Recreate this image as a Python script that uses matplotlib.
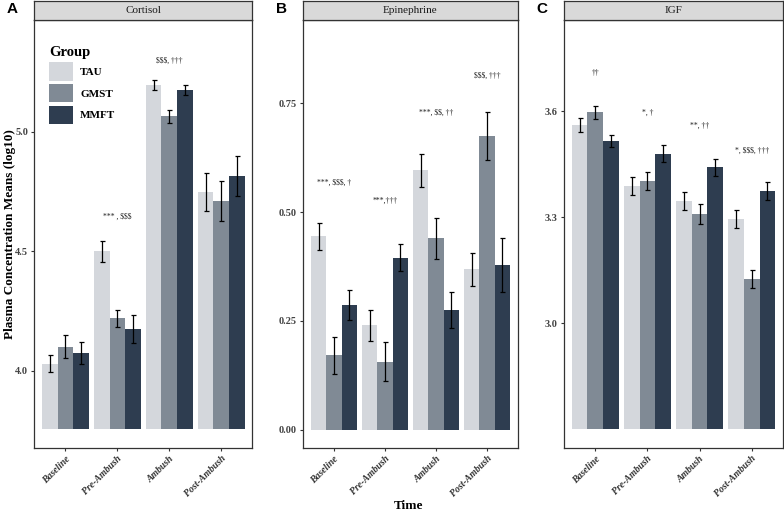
import matplotlib
matplotlib.use("Agg")
import matplotlib.pyplot as plt
from matplotlib.patches import Patch
import numpy as np

plt.rcParams["text.parse_math"] = False

# ---------------- data ----------------
times = ["Baseline", "Pre-Ambush", "Ambush", "Post-Ambush"]
groups = ["TAU", "GMST", "MMFT"]

cortisol_tau = [4.03, 4.50, 5.195, 4.75]
cortisol_gmst = [4.10, 4.22, 5.065, 4.71]
cortisol_mmft = [4.075, 4.175, 5.175, 4.815]
cortisol_tau_se = [0.037, 0.045, 0.021, 0.080]
cortisol_gmst_se = [0.048, 0.036, 0.028, 0.083]
cortisol_mmft_se = [0.045, 0.057, 0.020, 0.083]
cortisol_notes = ["", "*** , $$$", "$$$, \u2020\u2020\u2020", ""]
cortisol_note_y = [np.nan, 4.644, 5.30, np.nan]

epi_tau = [0.444, 0.240, 0.596, 0.369]
epi_gmst = [0.171, 0.157, 0.440, 0.674]
epi_mmft = [0.286, 0.395, 0.275, 0.379]
epi_tau_se = [0.031, 0.036, 0.038, 0.038]
epi_gmst_se = [0.043, 0.045, 0.047, 0.055]
epi_mmft_se = [0.034, 0.031, 0.041, 0.062]
epi_notes = ["***, $$$, \u2020", "***,\u2020\u2020\u2020", "***, $$, \u2020\u2020", "$$$, \u2020\u2020\u2020"]
epi_note_y = [0.566, 0.525, 0.727, 0.812]

igf_tau = [3.562, 3.389, 3.346, 3.295]
igf_gmst = [3.597, 3.403, 3.310, 3.126]
igf_mmft = [3.517, 3.480, 3.442, 3.374]
igf_tau_se = [0.019, 0.026, 0.025, 0.026]
igf_gmst_se = [0.018, 0.026, 0.028, 0.025]
igf_mmft_se = [0.017, 0.024, 0.024, 0.026]
igf_notes = ["\u2020\u2020", "*, \u2020", "**, \u2020\u2020", "*, $$$, \u2020\u2020\u2020"]
igf_note_y = [3.71, 3.596, 3.56, 3.489]

cortisol_ticks = [4.0, 4.5, 5.0]
epi_ticks = [0.00, 0.25, 0.50, 0.75]
igf_ticks = [3.0, 3.3, 3.6]

# ---------------- style ----------------
colors = ["#D4D7DC", "#808A95", "#2E3D50"]
serif = ["Liberation Serif", "DejaVu Serif"]
plt.rcParams["font.family"] = serif
dark = "#333333"

W, H = 784, 516
fig = plt.figure(figsize=(W / 100, H / 100), dpi=100)

def px_axes(x0, x1, y0, y1):
    return fig.add_axes([x0 / W, 1 - y1 / H, (x1 - x0) / W, (y1 - y0) / H])

panels = [
    dict(title="Cortisol", letter="A", x0=34.3, x1=252.3, lx=7,
         means=[cortisol_tau, cortisol_gmst, cortisol_mmft],
         ses=[cortisol_tau_se, cortisol_gmst_se, cortisol_mmft_se],
         notes=cortisol_notes, note_y=cortisol_note_y,
         ticks=cortisol_ticks, fmt="{:.1f}", base=3.755, ylim=(3.676, 5.468)),
    dict(title="Epinephrine", letter="B", x0=303.3, x1=517.5, lx=276,
         means=[epi_tau, epi_gmst, epi_mmft],
         ses=[epi_tau_se, epi_gmst_se, epi_mmft_se],
         notes=epi_notes, note_y=epi_note_y,
         ticks=epi_ticks, fmt="{:.2f}", base=0.0, ylim=(-0.0413, 0.9397)),
    dict(title="IGF", letter="C", x0=564, x1=783, lx=536,
         means=[igf_tau, igf_gmst, igf_mmft],
         ses=[igf_tau_se, igf_gmst_se, igf_mmft_se],
         notes=igf_notes, note_y=igf_note_y,
         ticks=igf_ticks, fmt="{:.1f}", base=2.70, ylim=(2.647, 3.858)),
]

y_top, y_bot = 20.3, 448.0
x = np.arange(1, len(times) + 1)
bw = 0.3

axes = []
for p in panels:
    ax = px_axes(p["x0"], p["x1"], y_top, y_bot)
    axes.append(ax)
    for gi, (m, s) in enumerate(zip(p["means"], p["ses"])):
        m = np.asarray(m)
        pos = x + (gi - 1) * bw
        ax.bar(pos, m - p["base"], bottom=p["base"], width=bw,
               color=colors[gi], edgecolor="none", zorder=2)
        ax.errorbar(pos, m, yerr=s, fmt="none", ecolor="black",
                    elinewidth=0.9, capsize=1.8, capthick=0.9, zorder=3)
    for xi, (t, ty) in enumerate(zip(p["notes"], p["note_y"])):
        if t:
            ax.text(x[xi], ty, t, ha="center", va="center", fontsize=5.5,
                    color="#222222", family=serif)
    ax.set_xlim(0.4, 4.6)
    ax.set_ylim(*p["ylim"])
    ax.set_xticks(x)
    ax.set_xticklabels(times, rotation=45, ha="right", va="top",
                       rotation_mode="anchor", fontsize=7,
                       fontweight="bold", fontstyle="italic", color=dark)
    ax.set_yticks(p["ticks"])
    ax.set_yticklabels([p["fmt"].format(v) for v in p["ticks"]],
                       fontsize=7.5, fontweight="bold", color="#444444")
    ax.tick_params(axis="both", length=2.5, width=0.8, color=dark, pad=2)
    for sp in ax.spines.values():
        sp.set_color(dark)
        sp.set_linewidth(0.9)
    ax.set_facecolor("white")

    # facet strip
    sax = px_axes(p["x0"], p["x1"], 1.0, y_top)
    sax.set_facecolor("#D9D9D9")
    sax.set_xticks([])
    sax.set_yticks([])
    for sp in sax.spines.values():
        sp.set_color(dark)
        sp.set_linewidth(0.9)
    sax.text(0.5, 0.5, p["title"], ha="center", va="center",
             fontsize=8, color="#1A1A1A", transform=sax.transAxes)

    # panel letter
    fig.text(p["lx"] / W, 1 - 9 / H, p["letter"], ha="left", va="center",
             fontsize=11, fontweight="bold",
             family=["Liberation Sans", "DejaVu Sans"])

# legend in panel A
handles = [Patch(facecolor=c, edgecolor="none") for c in colors]
leg = axes[0].legend(handles, groups, title="Group", loc="upper left",
                     bbox_to_anchor=(0.067, 0.94), frameon=False,
                     borderpad=0, borderaxespad=0,
                     handlelength=2.2, handleheight=2.2,
                     handletextpad=0.6, labelspacing=0.28,
                     prop=dict(family=serif, weight="bold", size=8),
                     title_fontproperties=dict(family=serif, weight="bold", size=10.5),
                     alignment="left")

fig.text(10 / W, 1 - 234 / H, "Plasma Concentration Means (log10)",
         rotation=90, ha="center", va="center", fontsize=9.5,
         fontweight="bold", color="black")
fig.text(409 / W, 1 - 506 / H, "Time", ha="center", va="center",
         fontsize=9.5, fontweight="bold", color="black")

fig.savefig("out.png", dpi=100)
